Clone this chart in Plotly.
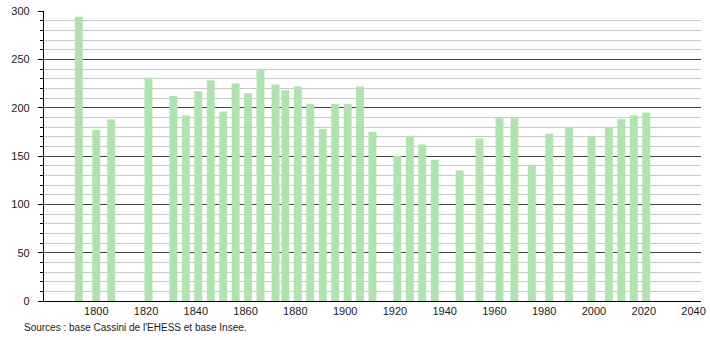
import plotly.graph_objects as go

years = [1793, 1800, 1806, 1821, 1831, 1836, 1841, 1846, 1851, 1856, 1861, 1866,
         1872, 1876, 1881, 1886, 1891, 1896, 1901, 1906, 1911, 1921, 1926, 1931,
         1936, 1946, 1954, 1962, 1968, 1975, 1982, 1990, 1999, 2006, 2011, 2016, 2021]
population = [294, 177, 188, 231, 212, 192, 217, 228, 196, 225, 215, 240,
              224, 218, 222, 204, 178, 204, 204, 222, 175, 150, 171, 162,
              146, 135, 168, 189, 189, 140, 173, 180, 170, 180, 188, 192, 195]
x_ticks = [1800, 1820, 1840, 1860, 1880, 1900, 1920, 1940, 1960, 1980, 2000, 2020, 2040]
y_ticks = [0, 50, 100, 150, 200, 250, 300]
source_text = "Sources : base Cassini de l'EHESS et base Insee."

fig = go.Figure()
fig.add_trace(go.Bar(
    x=years, y=population, width=3.2,
    marker=dict(color="#b0e3b0", line=dict(width=0)),
    hoverinfo="x+y",
))

font = dict(family="Liberation Sans, Arial, sans-serif", size=11, color="#1a1a1a")

fig.update_layout(
    width=710, height=340,
    margin=dict(l=44, r=9, t=11, b=39, autoexpand=False),
    paper_bgcolor="white", plot_bgcolor="white",
    showlegend=False,
    font=font,
    xaxis=dict(
        range=[1779, 2043], tickmode="array", tickvals=x_ticks,
        ticktext=[str(v) for v in x_ticks],
        showgrid=False, zeroline=False, automargin=False,
        showline=True, linecolor="#000", linewidth=1,
        ticks="", ticklen=0, tickfont=font,
    ),
    yaxis=dict(
        range=[0, 300], tickmode="array", tickvals=y_ticks,
        ticktext=[str(v) + "\u00a0\u00a0" for v in y_ticks],
        showgrid=True, gridcolor="#444", gridwidth=1,
        zeroline=False, automargin=False,
        showline=True, linecolor="#000", linewidth=1,
        ticks="outside", ticklen=5, tickcolor="#000", tickfont=font,
        minor=dict(dtick=10, showgrid=True, gridcolor="#c8c8c8", gridwidth=1,
                   ticks="outside", ticklen=3, tickcolor="#000"),
    ),
    annotations=[dict(
        text=source_text, xref="paper", yref="paper",
        x=-0.034, y=-0.093, xanchor="left", yanchor="middle",
        showarrow=False, font=dict(family="Liberation Sans, Arial, sans-serif", size=10, color="#1a1a1a"),
    )],
)

fig.write_html("out.html")
